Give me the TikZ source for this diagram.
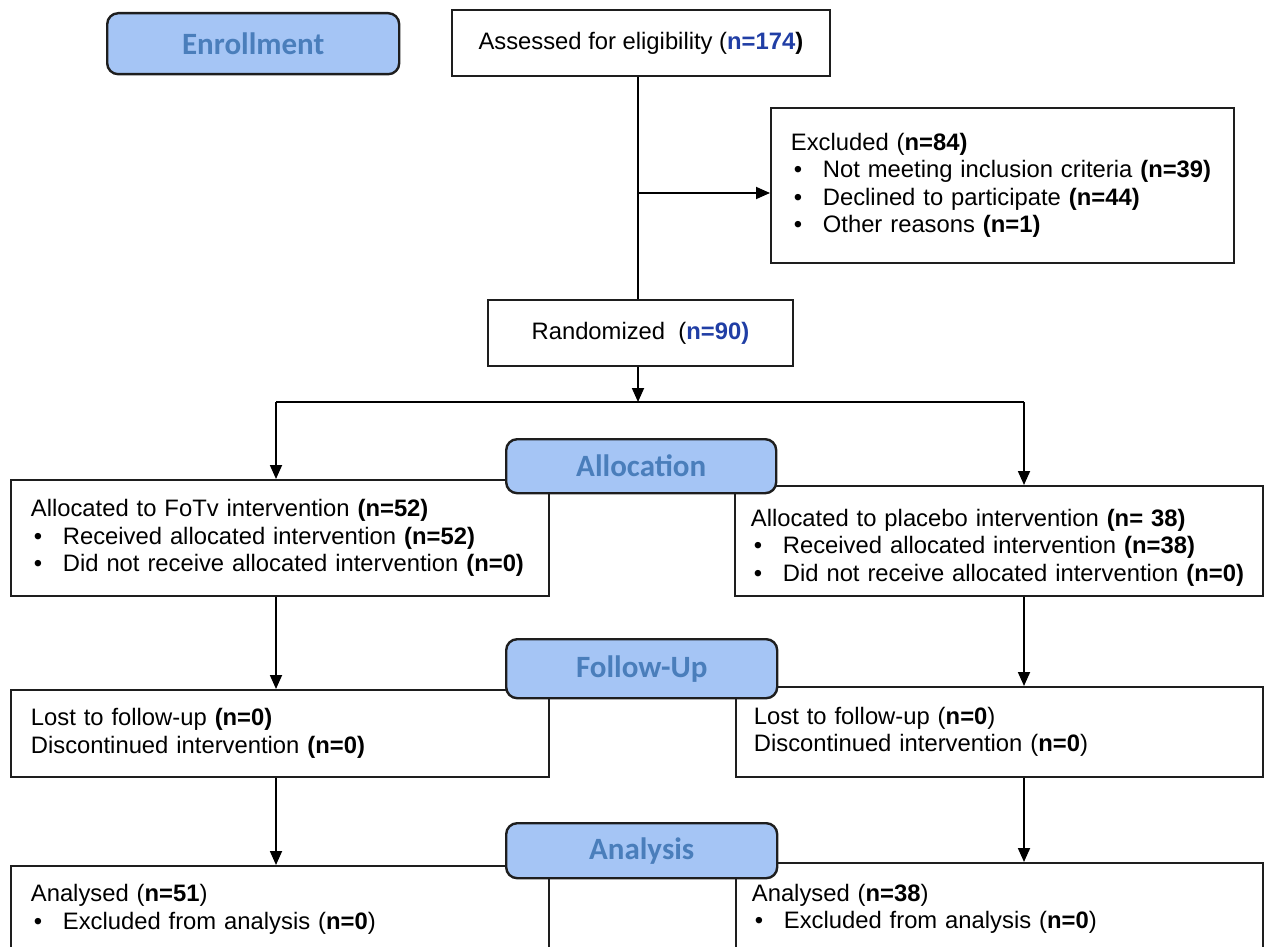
\documentclass[tikz,border=0pt]{standalone}
\usepackage{fontspec}
\setmainfont{Liberation Sans}
\newfontfamily\hdrfont{Carlito}
\usetikzlibrary{arrows.meta}
\definecolor{nblue}{RGB}{32,62,165}
\definecolor{hdrfill}{RGB}{165,197,245}
\definecolor{hdrtext}{RGB}{74,126,187}
\definecolor{edge}{RGB}{30,30,30}
\newcommand{\bul}{\hspace*{3pt}\makebox[29pt][l]{•}}
\newcommand{\nn}[1]{\textbf{#1}}
\begin{document}
\begin{tikzpicture}[x=1pt,y=-1pt,
  box/.style={draw=edge,line width=1.8pt,fill=white,rectangle,anchor=north west,
    inner xsep=20pt,inner ysep=0pt,align=left,
    font=\fontsize{23.8}{27.5}\selectfont},
  cbox/.style={draw=edge,line width=1.8pt,fill=white,rectangle,anchor=north west,
    inner sep=0pt,align=center,font=\fontsize{23.8}{27.5}\selectfont},
  hdr/.style={draw=edge,line width=2.4pt,fill=hdrfill,rounded corners=11pt,
    anchor=north west,inner sep=0pt,text=hdrtext,
    font=\hdrfont\bfseries\fontsize{31}{36}\selectfont},
  conn/.style={draw=black,line width=1.8pt},
  arr/.style={conn,-{Triangle[length=14pt,width=12pt]}}]
\useasboundingbox (0,0) rectangle (1264,947);
\clip (0,0) rectangle (1264,947);

% main boxes
\node[cbox,minimum width=378pt,minimum height=66pt] (assess) at (451,9)
  {Assessed for eligibility (\textbf{\textcolor{nblue}{n=174})}};
\node[box,minimum width=463pt,minimum height=155pt,text width=423pt] (excl) at (770,107)
  {Excluded (\nn{n=84)}\\
   \bul Not meeting inclusion criteria \nn{(n=39)}\\
   \bul Declined to participate \nn{(n=44)}\\
   \bul Other reasons \nn{(n=1)}};
\node[cbox,minimum width=305pt,minimum height=66pt] (rand) at (487,299)
  {Randomized\ \ (\textbf{\textcolor{nblue}{n=90)}}};

\node[box,minimum width=538pt,minimum height=116pt,text width=498pt] (allocL) at (10,479)
  {Allocated to FoTv intervention \nn{(n=52)}\\
   \bul Received allocated intervention \nn{(n=52)}\\
   \bul Did not receive allocated intervention \nn{(n=0)}};
\node[box,inner xsep=16pt,minimum width=528pt,minimum height=110pt,text width=496pt,
      text height=31pt] (allocR) at (734,485)
  {Allocated to placebo intervention \nn{(n= 38)}\\
   \bul Received allocated intervention \nn{(n=38)}\\
   \bul Did not receive allocated intervention \nn{(n=0)}};

\node[box,minimum width=538pt,minimum height=87pt,text width=498pt] (fuL) at (10,689)
  {Lost to follow-up \nn{(n=0)}\\
   Discontinued intervention \nn{(n=0)}};
\node[box,inner xsep=18pt,minimum width=527pt,minimum height=90pt,text width=491pt] (fuR) at (735,686)
  {Lost to follow-up (\nn{n=0})\\
   Discontinued intervention (\nn{n=0})};

\node[box,minimum width=538pt,minimum height=87pt,text width=498pt] (anL) at (10,865)
  {Analysed (\nn{n=51})\\
   \bul Excluded from analysis (\nn{n=0})};
\node[box,inner xsep=16pt,minimum width=527pt,minimum height=87pt,text width=495pt,
      text height=22pt] (anR) at (735,862)
  {Analysed (\nn{n=38})\\
   \bul Excluded from analysis (\nn{n=0})};

% headers
\node[hdr,minimum width=292pt,minimum height=61pt] (henr) at (106,12) {Enrollment};
\node[hdr,minimum width=270pt,minimum height=54pt] (halloc) at (505,438) {Allocation};
\node[hdr,minimum width=271pt,minimum height=59pt] (hfu) at (505,638) {Follow-Up};
\node[hdr,minimum width=271pt,minimum height=55pt] (han) at (505,822) {Analysis};

% connectors
\coordinate (j1) at (638,193);
\coordinate (split) at (638,402);
\coordinate (sL) at (276,402);
\coordinate (sR) at (1024,402);
\draw[conn] (assess.south -| j1) -- (rand.north -| j1);
\draw[arr] (j1) -- (excl.west |- j1);
\draw[arr] (rand.south -| split) -- (split);
\draw[conn] (sL) -- (sR);
\draw[arr] (sL) -- (sL |- allocL.north);
\draw[arr] (sR) -- (sR |- allocR.north);
\draw[arr] (allocL.south -| sL) -- (fuL.north -| sL);
\draw[arr] (allocR.south -| sR) -- (fuR.north -| sR);
\draw[arr] (fuL.south -| sL) -- (anL.north -| sL);
\draw[arr] (fuR.south -| sR) -- (anR.north -| sR);
\end{tikzpicture}
\end{document}
